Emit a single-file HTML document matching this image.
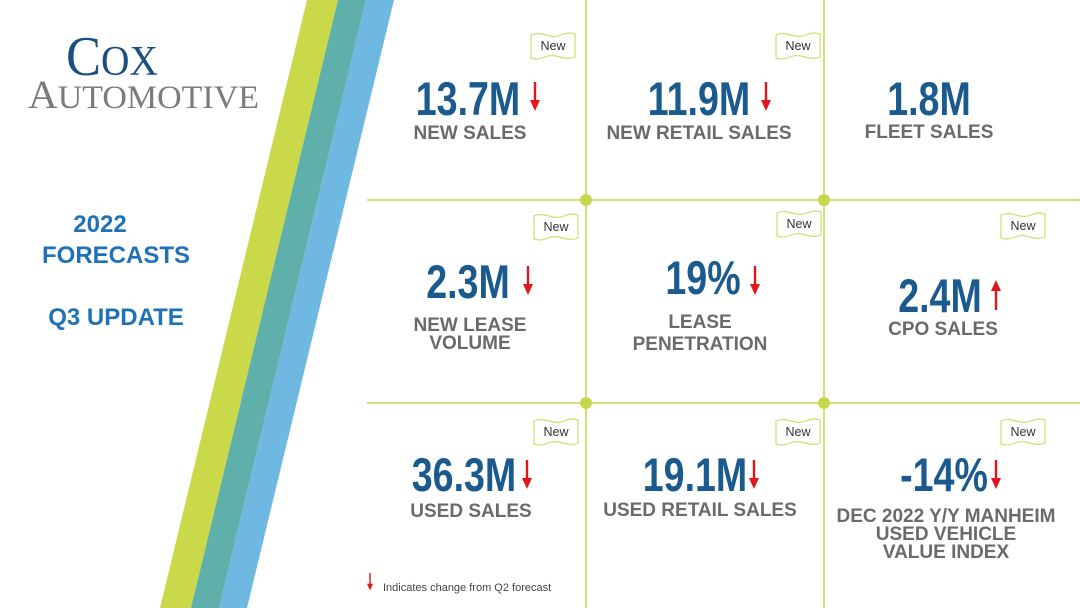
<!DOCTYPE html>
<html><head><meta charset="utf-8"><style>
body{margin:0;width:1080px;height:608px;overflow:hidden;background:#fff;position:relative;font-family:"Liberation Sans",Arial,sans-serif}
.a{position:absolute}
.num{position:absolute;font-family:"Liberation Sans",sans-serif;font-weight:bold;color:#1b5a8e;font-size:47px;line-height:47px;transform:translateX(-50%) scaleX(0.8);white-space:nowrap}
.lab{position:absolute;font-weight:bold;color:#6a6a6a;font-size:19px;line-height:18px;text-align:center;transform:translateX(-50%);white-space:nowrap}
.side{position:absolute;font-weight:bold;color:#1f72b8;font-size:24px;transform:translateX(-50%);white-space:nowrap}
</style></head><body>
<svg class="a" style="left:0;top:0" width="1080" height="608">
<polygon points="307,0 338,0 191,608 160,608" fill="#c9d94a"/>
<polygon points="338,0 366,0 219,608 191,608" fill="#5fb0ab"/>
<polygon points="366,0 394,0 247,608 219,608" fill="#6fb8e2"/>
<g stroke="#c8d64e" stroke-width="1.5">
<line x1="586" y1="0" x2="586" y2="608"/><line x1="824" y1="0" x2="824" y2="608"/>
<line x1="367" y1="200" x2="1080" y2="200"/><line x1="367" y1="403" x2="1080" y2="403"/>
</g>
<g fill="#c8d64e"><circle cx="586" cy="200" r="6"/><circle cx="824" cy="200" r="6"/><circle cx="586" cy="403" r="6"/><circle cx="824" cy="403" r="6"/></g>
<defs>
<g id="flag"><path d="M1,3 C12,-2 20,8 31,3 C38,0 42,1 45,2 L45,25 C34,30 26,20 15,25 C8,28 4,27 1,26 Z" fill="#fff" stroke="#d3dc6e" stroke-width="1.2"/><text x="23" y="18" font-family="Liberation Sans,sans-serif" font-size="12.5" fill="#333" text-anchor="middle">New</text></g>
<g id="dn"><line x1="0" y1="0" x2="0" y2="20" stroke="#e0161b" stroke-width="2.4"/><polygon points="-5,18 5,18 0,29" fill="#e0161b"/></g>
<g id="up"><line x1="0" y1="9" x2="0" y2="30" stroke="#e0161b" stroke-width="2.4"/><polygon points="-5,11 5,11 0,0" fill="#e0161b"/></g>
</defs>
<use href="#flag" x="530" y="32"/><use href="#flag" x="775" y="32"/>
<use href="#flag" x="533" y="213"/><use href="#flag" x="776" y="210"/><use href="#flag" x="1000" y="212"/>
<use href="#flag" x="533" y="418"/><use href="#flag" x="775" y="418"/><use href="#flag" x="1000" y="418"/>
<use href="#dn" x="535" y="82"/><use href="#dn" x="766" y="82"/>
<use href="#dn" x="528" y="266"/><use href="#dn" x="755" y="266"/><use href="#up" x="996" y="280"/>
<use href="#dn" x="527" y="460"/><use href="#dn" x="754" y="460"/><use href="#dn" x="996" y="460"/>
<g transform="translate(370,573) scale(0.6)"><use href="#dn"/></g>
<text x="383" y="591" font-family="Liberation Sans,sans-serif" font-size="11" fill="#444">Indicates change from Q2 forecast</text>
<text x="66" y="75" font-family="Liberation Serif,serif" fill="#1b4f80" font-size="56" textLength="92" lengthAdjust="spacingAndGlyphs">C<tspan font-size="42">OX</tspan></text>
<text x="28" y="108" font-family="Liberation Serif,serif" fill="#7b7b7b" font-size="40" textLength="231" lengthAdjust="spacingAndGlyphs">A<tspan font-size="33">UTOMOTIVE</tspan></text>
</svg>
<div class="side" style="left:100px;top:211px">2022</div>
<div class="side" style="left:116px;top:242px">FORECASTS</div>
<div class="side" style="left:116px;top:304px">Q3 UPDATE</div>

<div class="num" style="left:468px;top:75px">13.7M</div>
<div class="lab" style="left:470px;top:125px">NEW SALES</div>
<div class="num" style="left:699px;top:75px">11.9M</div>
<div class="lab" style="left:699px;top:125px">NEW RETAIL SALES</div>
<div class="num" style="left:929px;top:75px">1.8M</div>
<div class="lab" style="left:929px;top:124px">FLEET SALES</div>

<div class="num" style="left:468px;top:258px">2.3M</div>
<div class="lab" style="left:470px;top:317px">NEW LEASE<br>VOLUME</div>
<div class="num" style="left:703px;top:254px">19%</div>
<div class="lab" style="left:700px;top:312px;line-height:22px">LEASE<br>PENETRATION</div>
<div class="num" style="left:940px;top:272px">2.4M</div>
<div class="lab" style="left:943px;top:321px">CPO SALES</div>

<div class="num" style="left:464px;top:451px">36.3M</div>
<div class="lab" style="left:471px;top:503px">USED SALES</div>
<div class="num" style="left:695px;top:451px">19.1M</div>
<div class="lab" style="left:700px;top:502px">USED RETAIL SALES</div>
<div class="num" style="left:944px;top:451px">-14%</div>
<div class="lab" style="left:946px;top:508px">DEC 2022 Y/Y MANHEIM<br>USED VEHICLE<br>VALUE INDEX</div>
</body></html>
